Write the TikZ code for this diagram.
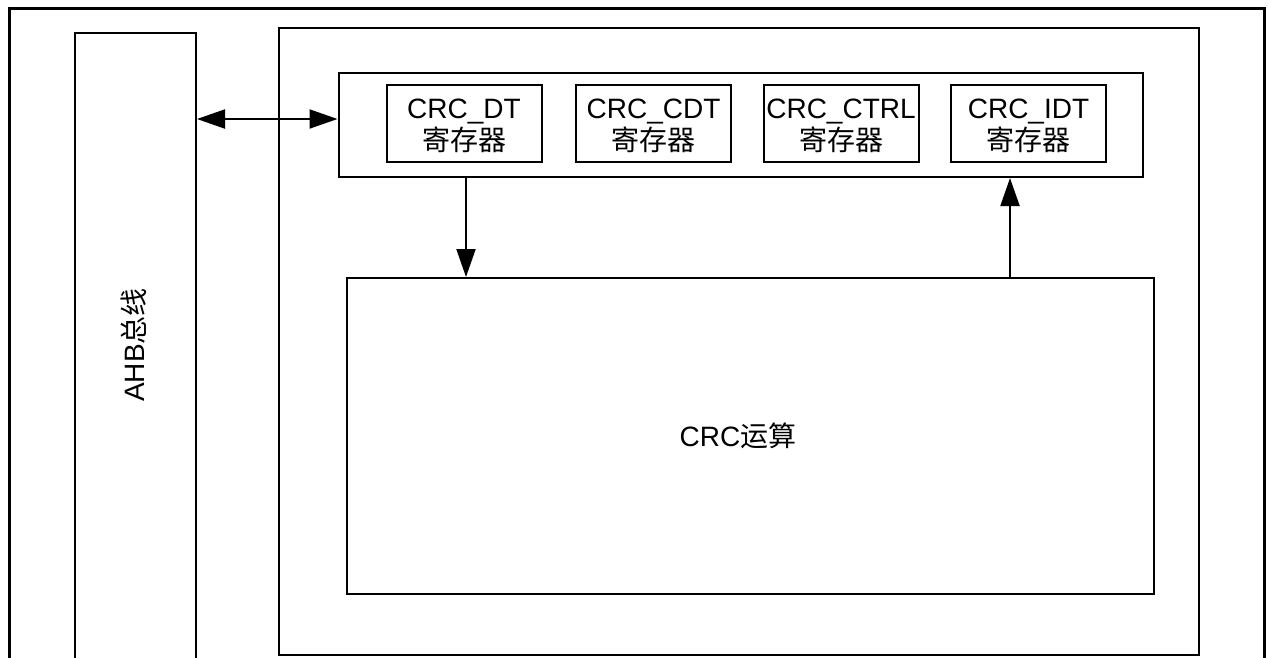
\documentclass[tikz,border=0pt]{standalone}
\usepackage{fontspec}
\setmainfont{Liberation Sans}
\newfontfamily\cjk{Noto Sans CJK SC}
\usetikzlibrary{arrows.meta,positioning}
\tikzset{
  box/.style={draw, line width=2pt, inner sep=0pt, anchor=north west},
  reg/.style={draw, line width=2pt, inner sep=0pt, minimum width=155pt, minimum height=77pt, align=center, font=\fontsize{28}{32}\selectfont},
  regtext/.style={inner sep=0pt, align=center, font=\fontsize{28}{32}\selectfont},
  conn/.style={line width=2pt, -{Triangle[length=28pt,width=19pt]}},
  biconn/.style={line width=2pt, {Triangle[length=28pt,width=19pt]}-{Triangle[length=28pt,width=19pt]}},
  lbl/.style={font=\fontsize{28}{32}\selectfont, inner sep=0pt}
}
\begin{document}
\begin{tikzpicture}[x=1pt,y=-1pt]
\useasboundingbox (0,0) rectangle (1269,657);
\clip (0,0) rectangle (1269,657);
\fill[white] (0,0) rectangle (1269,657);
% outer frame (open at bottom)
\node[box, line width=3pt, minimum width=1255pt, minimum height=700pt] (outer) at (8,7) {};
% AHB bus
\node[box, minimum width=121pt, minimum height=700pt] (ahb) at (74,32) {};
\node[lbl, rotate=90] (ahblbl) at (134,345) {AHB{\cjk 总线}};
% inner module
\node[box, minimum width=920pt, minimum height=627pt] (inner) at (278,27) {};
% register container
\node[box, minimum width=804.5pt, minimum height=104pt] (cont) at (337.5,72) {};
% registers
\node[reg] (dt) at (464,123) {};
\node[reg] (cdt) at (653.5,123) {};
\node[reg] (ctrl) at (841,123) {};
\node[reg] (idt) at (1028.5,123) {};
\node[regtext] (dtt) at (464,126) {CRC\_DT\\{\cjk 寄存器}};
\node[regtext] (cdtt) at (653.5,126) {CRC\_CDT\\{\cjk 寄存器}};
\node[regtext] (ctrlt) at (841,126) {CRC\_CTRL\\{\cjk 寄存器}};
\node[regtext] (idtt) at (1028.5,126) {CRC\_IDT\\{\cjk 寄存器}};
% CRC computation
\node[box, minimum width=807.5pt, minimum height=316pt] (crc) at (345.5,277) {};
\node[lbl] (crclbl) at (738,436) {CRC{\cjk 运算}};
% connectors
\coordinate (busy) at (0,119);
\draw[biconn] (ahb.east |- busy) -- (cont.west |- busy);
\coordinate (downx) at (466,0);
\draw[conn] (downx |- cont.south) -- (downx |- crc.north);
\coordinate (upx) at (1010,0);
\draw[conn] (upx |- crc.north) -- (upx |- cont.south);
\end{tikzpicture}
\end{document}
